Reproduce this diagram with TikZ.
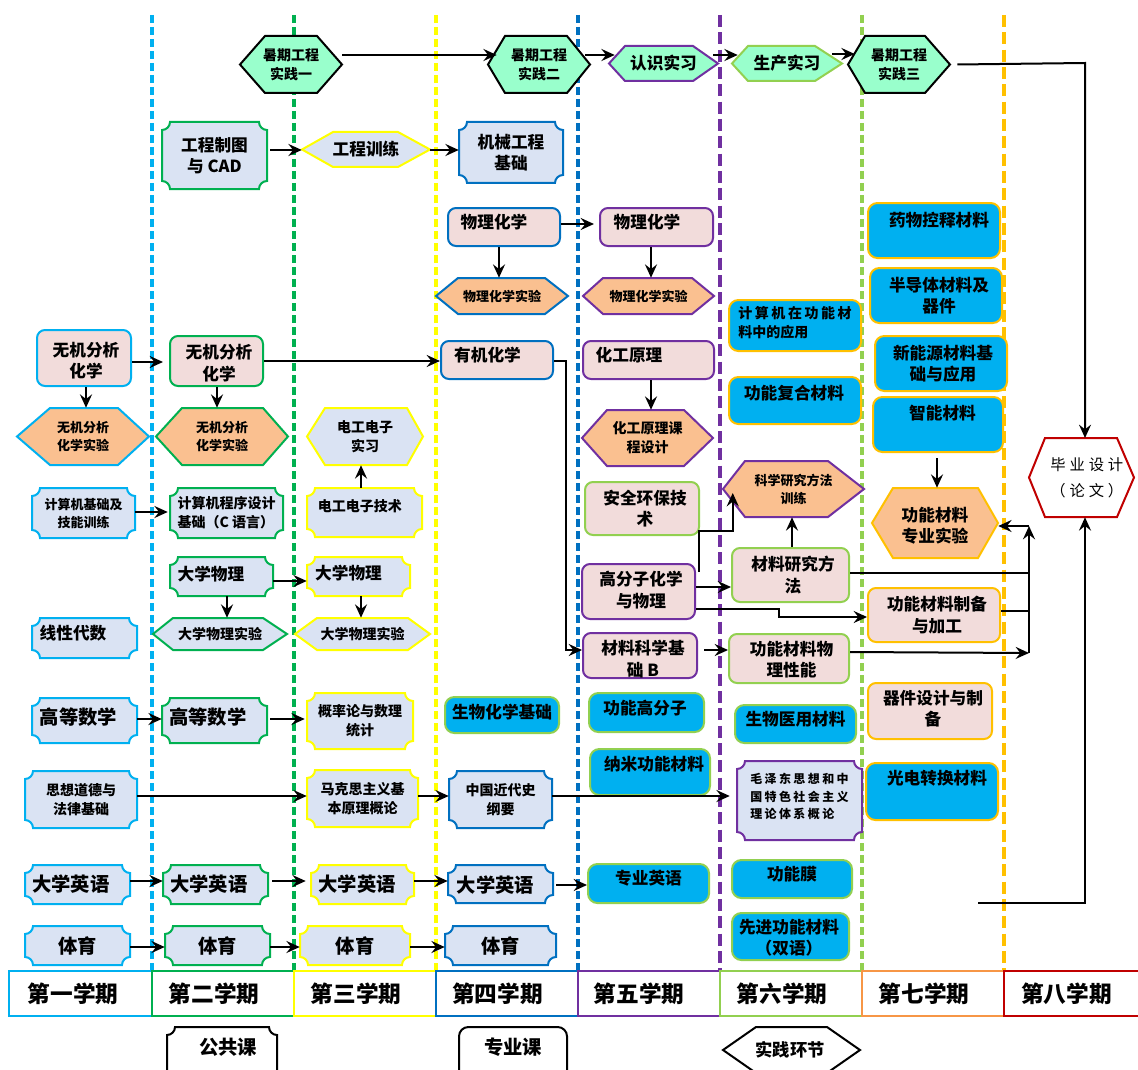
\documentclass[tikz,border=0pt]{standalone}
\usepackage{fontspec}
\newfontfamily\cjk{Noto Sans CJK SC}
\usetikzlibrary{fit,arrows.meta}
\definecolor{cC}{HTML}{00B0F0}
\definecolor{cG}{HTML}{00B050}
\definecolor{cY}{HTML}{FFFF00}
\definecolor{cBl}{HTML}{0070C0}
\definecolor{cP}{HTML}{7030A0}
\definecolor{cLG}{HTML}{92D050}
\definecolor{cO}{HTML}{FFC000}
\definecolor{cOt}{HTML}{F79646}
\definecolor{cR}{HTML}{C00000}
\definecolor{pubfill}{HTML}{DAE3F3}
\definecolor{pinkfill}{HTML}{F2DCDB}
\definecolor{orgfill}{HTML}{FAC090}
\definecolor{mint}{HTML}{99FFCC}
\definecolor{cEl}{HTML}{00B0F0}
\tikzset{
 fA/.style={align=center, inner sep=0pt, font=\cjk\bfseries\fontsize{12.5}{16}\selectfont},
 fB/.style={align=center, inner sep=0pt, font=\cjk\bfseries\fontsize{14.5}{18}\selectfont},
 fC/.style={align=center, inner sep=0pt, font=\cjk\bfseries\fontsize{10.5}{14.3}\selectfont},
 fD/.style={align=center, inner sep=0pt, font=\cjk\bfseries\fontsize{9.75}{13.5}\selectfont},
 fE/.style={align=left, inner sep=0pt, font=\cjk\bfseries\fontsize{9}{13}\selectfont\addfontfeatures{LetterSpace=20}},
 fS/.style={align=center, inner sep=0pt, font=\cjk\bfseries\fontsize{17}{20}\selectfont},
 fL/.style={align=center, inner sep=0pt, font=\cjk\bfseries\fontsize{13}{16}\selectfont},
 fBy/.style={align=center, inner sep=0pt, font=\cjk\fontsize{11.5}{19.5}\selectfont\addfontfeatures{LetterSpace=25}},
 pub/.style={draw=#1, fill=pubfill, line width=1.5pt},
 pk/.style={draw=#1, fill=pinkfill, line width=1.5pt, rounded corners=6pt},
 el/.style={draw=#1, fill=cEl, line width=1.5pt, rounded corners=7pt},
 hxm/.style={draw=#1, fill=mint, line width=1.5pt},
 hxo/.style={draw=#1, fill=orgfill, line width=1.5pt},
 hxp/.style={draw=#1, fill=pubfill, line width=1.5pt},
 hxw/.style={draw=#1, fill=white, line width=1.5pt},
 sem/.style={draw=#1, line width=1.5pt},
 vline/.style={draw=#1, line width=2.6pt, dash pattern=on 6pt off 3pt},
 vlineT/.style={draw=#1, line width=3.4pt, dash pattern=on 9pt off 4pt},
 arr/.style={line width=1.5pt, -{Stealth[length=10pt,width=9pt,inset=3.5pt]}},
 ln/.style={line width=1.5pt},
}
% plaque with concave corners: name x1 y1 x2 y2 boxstyle textstyle text
\newcommand\plq[8]{%
 \path[#6] ([xshift=6pt]#2,#3) -- ([xshift=-6pt]#4,#3) arc[start angle=180,end angle=270,radius=6pt]
   -- ([yshift=6pt]#4,#5) arc[start angle=90,end angle=180,radius=6pt]
   -- ([xshift=6pt]#2,#5) arc[start angle=0,end angle=90,radius=6pt]
   -- ([yshift=-6pt]#2,#3) arc[start angle=270,end angle=360,radius=6pt] -- cycle;
 \node[fit={(#2,#3) (#4,#5)}, inner sep=0pt] (#1) {};
 \node[#7] (#1t) at (#1.center) {#8};}
% rounded / plain box
\newcommand\rbx[8]{%
 \node[fit={(#2,#3) (#4,#5)}, inner sep=0pt, #6] (#1) {};
 \node[#7] (#1t) at (#1.center) {#8};}
% hexagon: name xl xtl xtr xr yt yb boxstyle [textstyle]{text}
\newcommand\hexa[9]{%
 \path[#8] (#2,{(#6+#7)/2}) -- (#3,#6) -- (#4,#6) -- (#5,{(#6+#7)/2}) -- (#4,#7) -- (#3,#7) -- cycle;
 \node[fit={(#2,#6) (#5,#7)}, inner sep=0pt] (#1) {};
 \node (#1t) at (#1.center) #9;}
\begin{document}
\begin{tikzpicture}[x=0.75pt, y=-0.75pt]
\useasboundingbox (0,0) rectangle (1138,1070);
% semester separators
\draw[vline=cC] (152,15) -- (152,970);
\draw[vline=cG] (294,15) -- (294,970);
\draw[vline=cY] (436,15) -- (436,970);
\draw[vline=cBl] (578,15) -- (578,970);
\draw[vlineT=cP] (720,15) -- (720,970);
\draw[vline=cLG] (862,15) -- (862,970);
\draw[vlineT=cO] (1004,15) -- (1004,970);

% ---- top practice row
\hexa{sq1}{240}{265}{317}{342}{36}{93}{hxm=black}{[fC]{暑期工程\\实践一}}
\hexa{sq2}{488}{505}{567}{590}{36}{93}{hxm=black}{[fC]{暑期工程\\实践二}}
\hexa{rs}{609}{625}{693}{718}{46}{81}{hxm=cP}{[fA]{认识实习}}
\hexa{sc}{732}{748}{815}{842}{46}{81}{hxm=cLG}{[fA]{生产实习}}
\hexa{sq3}{848}{865}{925}{950}{36}{93}{hxm=black}{[fC]{暑期工程\\实践三}}

% ---- public courses (plaques)
\plq{gczt}{162}{122}{267}{189}{pub=cG}{fA}{工程制图\\与 CAD}
\plq{jxgc}{459}{122}{563}{183}{pub=cBl}{fA}{机械工程\\基础}
\plq{jsj}{32}{488}{135}{538}{pub=cC}{fD}{计算机基础及\\技能训练}
\plq{cxsj}{170}{488}{283}{538}{pub=cG}{fC, align=left}{计算机程序设计\\基础（C 语言）}
\plq{dgjs}{307}{488}{422}{537}{pub=cY}{fC, xshift=-3.4pt, yshift=4.9pt}{电工电子技术}
\plq{dxwl2}{170}{557}{273}{596}{pub=cG}{fA, xshift=-7.9pt, yshift=1.9pt}{大学物理}
\plq{dxwl3}{307}{557}{410}{596}{pub=cY}{fA, xshift=-7.5pt, yshift=2.6pt}{大学物理}
\plq{xxds}{32}{618}{137}{658}{pub=cC}{fA, xshift=-8.6pt, yshift=3.75pt}{线性代数}
\plq{gs1}{32}{698}{137}{743}{pub=cC}{fB, xshift=-4.5pt, yshift=2.6pt}{高等数学}
\plq{gs2}{162}{698}{267}{743}{pub=cG}{fB, xshift=-4.9pt, yshift=2.6pt}{高等数学}
\plq{gll}{307}{693}{413}{749}{pub=cY}{fC}{概率论与数理\\统计}
\plq{sxdd}{25}{771}{137}{828}{pub=cC}{fC}{思想道德与\\法律基础}
\plq{mks}{307}{770}{418}{827}{pub=cY}{fC}{马克思主义基\\本原理概论}
\plq{zgjds}{449}{771}{552}{828}{pub=cBl}{fC}{中国近代史\\纲要}
\plq{mzd}{737}{761}{862}{840}{pub=cP}{fE, yshift=3pt}{毛泽东思想和中\\国特色社会主义\\理论体系概论}
\plq{dy1}{25}{865}{130}{904}{pub=cC}{fB, xshift=-4.9pt}{大学英语}
\plq{dy2}{163}{865}{268}{904}{pub=cG}{fB, xshift=-4.9pt}{大学英语}
\plq{dy3}{311}{865}{414}{904}{pub=cY}{fB, xshift=-4.1pt}{大学英语}
\plq{dy4}{448}{865}{553}{903}{pub=cBl}{fB, xshift=-3.75pt, yshift=-1pt}{大学英语}
\plq{ty1}{25}{926}{130}{965}{pub=cC}{fB}{体育}
\plq{ty2}{165}{926}{270}{965}{pub=cG}{fB}{体育}
\plq{ty3}{300}{926}{410}{965}{pub=cY}{fB}{体育}
\plq{ty4}{445}{926}{556}{965}{pub=cBl}{fB}{体育}

% ---- specialised courses (pink)
\rbx{wj1}{37}{330}{131}{386}{pk=cC}{fA, xshift=1.5pt, yshift=-2.2pt}{无机分析\\化学}
\rbx{wj2}{170}{336}{263}{386}{pk=cG}{fA, xshift=1.9pt, yshift=-1.5pt}{无机分析\\化学}
\rbx{wlhx4}{448}{208}{560}{246}{pk=cBl}{fA, xshift=-7.5pt, yshift=3.75pt}{物理化学}
\rbx{wlhx5}{600}{208}{713}{246}{pk=cP}{fA, xshift=-7.1pt, yshift=3.75pt}{物理化学}
\rbx{yjhx}{441}{341}{553}{379}{pk=cBl}{fA, xshift=-7.1pt, yshift=3.75pt}{有机化学}
\rbx{hgyl}{583}{341}{714}{379}{pk=cP}{fA, xshift=-14.6pt, yshift=3.75pt}{化工原理}
\rbx{aq}{585}{482}{699}{535}{pk=cLG}{fA, xshift=2.25pt}{安全环保技\\术}
\rbx{gfz}{582}{564}{695}{619}{pk=cP}{fA, xshift=1.9pt, yshift=1.1pt}{高分子化学\\与物理}
\rbx{clkx}{583}{633}{697}{678}{pk=cP}{fA, xshift=2.25pt, yshift=-2.6pt}{材料科学基\\础 B}
\rbx{clyj}{732}{548}{849}{602}{pk=cLG}{fA, xshift=1.9pt}{材料研究方\\法}
\rbx{gnwl}{729}{634}{849}{683}{pk=cLG}{fA, xshift=1.9pt, yshift=-1.1pt}{功能材料物\\理性能}
\rbx{zbjg}{868}{588}{1000}{642}{pk=cO}{fA, xshift=2.25pt}{功能材料制备\\与加工}
\rbx{qj}{868}{683}{992}{739}{pk=cO}{fA, xshift=2.25pt, yshift=1.5pt}{器件设计与制\\备}

% ---- electives (blue)
\rbx{ywks}{868}{203}{1000}{258}{el=cO}{fA, xshift=3.75pt, yshift=7.9pt}{药物控释材料}
\rbx{bdt}{870}{268}{1002}{323}{el=cO}{fA, xshift=2.25pt}{半导体材料及\\器件}
\rbx{xny}{875}{336}{1007}{391}{el=cO}{fA, xshift=1.5pt}{新能源材料基\\础与应用}
\rbx{zncl}{873}{397}{1003}{452}{el=cO}{fA, xshift=3.4pt, yshift=8.6pt}{智能材料}
\rbx{jsjyy}{729}{300}{861}{351}{el=cO}{fC, align=left, yshift=2.25pt}{{\addfontfeatures{LetterSpace=18}计算机在功能材}\\料中的应用}
\rbx{fhcl}{729}{377}{861}{424}{el=cO}{fA, xshift=-0.75pt, yshift=5.6pt}{功能复合材料}
\rbx{gngfz}{589}{693}{704}{732}{el=cLG}{fA, xshift=-1.1pt, yshift=3.4pt}{功能高分子}
\rbx{nm}{590}{749}{710}{795}{el=cLG}{fA, xshift=3pt, yshift=6pt}{纳米功能材料}
\rbx{zyyy}{588}{864}{709}{903}{el=cLG}{fA, yshift=4.1pt}{专业英语}
\rbx{swhx}{445}{697}{559}{733}{el=cLG}{fA, yshift=2.25pt}{生物化学基础}
\rbx{swyy}{735}{705}{856}{743}{el=cLG}{fA, yshift=3.75pt}{生物医用材料}
\rbx{gnm}{732}{860}{852}{898}{el=cLG}{fA, yshift=3.75pt}{功能膜}
\rbx{xjgn}{732}{913}{849}{960}{el=cLG}{fA, xshift=-1.1pt, yshift=-1.1pt}{先进功能材料\\（双语）}
\rbx{gdzh}{866}{763}{998}{820}{el=cO}{fA, xshift=3.75pt, yshift=10.1pt}{光电转换材料}

% ---- hexagons (labs / practice)
\hexa{gcxl}{302}{333}{398}{430}{132}{167}{hxp=cY}{[fA]{工程训练}}
\hexa{wlsy4}{436}{458}{545}{568}{278}{314}{hxo=cBl}{[fD]{物理化学实验}}
\hexa{wlsy5}{583}{603}{692}{714}{278}{314}{hxo=cP}{[fD]{物理化学实验}}
\hexa{wjsy1}{17}{50}{118}{149}{408}{465}{hxo=cC}{[fD]{无机分析\\化学实验}}
\hexa{wjsy2}{156}{182}{263}{288}{408}{465}{hxo=cG}{[fD]{无机分析\\化学实验}}
\hexa{dgsx}{307}{325}{407}{423}{408}{465}{hxp=cY}{[fC]{电工电子\\实习}}
\hexa{dxsy2}{153}{173}{263}{287}{618}{650}{hxp=cG}{[fC]{大学物理实验}}
\hexa{dxsy3}{295}{317}{408}{430}{618}{650}{hxp=cY}{[fC]{大学物理实验}}
\hexa{hgkc}{582}{607}{684}{713}{410}{466}{hxo=cP}{[fC]{化工原理课\\程设计}}
\hexa{kxyj}{723}{745}{828}{864}{461}{517}{hxo=cP}{[fD]{科学研究方法\\训练}}
\hexa{gnsy}{872}{893}{978}{998}{488}{558}{hxo=cO}{[fA, yshift=-1.9pt]{功能材料\\专业实验}}
\hexa{bysj}{1029}{1045}{1117}{1134}{438}{517}{hxw=cR}{[fBy, xshift=4pt]{毕业设计\\（论文）}}

% ---- semester row
\rbx{s1}{9}{971}{152}{1016}{sem=cC}{fS, xshift=-5.6pt}{第一学期}
\rbx{s2}{152}{971}{294}{1016}{sem=cG}{fS, xshift=-6.75pt}{第二学期}
\rbx{s3}{294}{971}{436}{1016}{sem=cY}{fS, xshift=-6.75pt}{第三学期}
\rbx{s4}{436}{971}{578}{1016}{sem=cBl}{fS, xshift=-7.1pt}{第四学期}
\rbx{s5}{578}{971}{720}{1016}{sem=cP}{fS, xshift=-7.5pt}{第五学期}
\rbx{s6}{720}{971}{862}{1016}{sem=cLG}{fS, xshift=-6.75pt}{第六学期}
\rbx{s7}{862}{971}{1004}{1016}{sem=cOt}{fS, xshift=-6.75pt}{第七学期}
\rbx{s8}{1004}{971}{1142}{1016}{sem=cR}{fS, xshift=-5pt}{第八学期}

% ---- legend
\plq{lg1}{167}{1027}{277}{1090}{pub=black, fill=white}{fB, xshift=4.5pt, yshift=8.6pt}{公共课}
\rbx{lg2}{459}{1027}{567}{1090}{draw=black, fill=white, line width=1.5pt, rounded corners=7pt}{fB, yshift=8.6pt}{专业课}
\hexa{lg3}{723}{756}{827}{860}{1027}{1073}{hxw=black}{[fL, xshift=-1pt]{实践环节}}

% ---- connectors
\draw[arr] (sq1.east |- 0,55) -- ([xshift=6.75pt]sq2.west |- 0,55);
\draw[arr] ([xshift=-3.75pt]sq2.east |- 0,55) -- ([xshift=4.5pt]rs.west |- 0,55);
\draw[arr] ([xshift=-3.75pt]rs.east |- 0,55) -- ([xshift=4.5pt]sc.west |- 0,55);
\draw[arr] ([xshift=-7.5pt]sc.east |- 0,54) -- ([xshift=5.25pt]sq3.west |- 0,54);
\coordinate (bysjtop) at (1085,438);
\draw[arr] ([xshift=5.25pt]sq3.east) -- (bysjtop |- 0,63) -- (bysjtop);

\draw[arr] ([xshift=2.25pt]gczt.east |- 0,150) -- (gcxl.west |- 0,150);
\draw[arr] (gcxl.east |- 0,150) -- (jxgc.west |- 0,150);
\draw[arr] (wlhx4.east |- 0,224) -- ([xshift=-3.75pt]wlhx5.west |- 0,224);
\draw[arr] (wlhx4.south -| 499,0) -- (wlsy4.north -| 499,0);
\draw[arr] (wlhx5.south -| 651,0) -- (wlsy5.north -| 651,0);
\draw[arr] (hgyl.south -| 651,0) -- (hgkc.north -| 651,0);

\draw[arr] (wj1.east |- 0,362) -- ([xshift=-4.5pt]wj2.west |- 0,362);
\draw[arr] (wj2.east |- 0,361) -- (yjhx.west |- 0,361);
\draw[arr] (wj1.south -| 86,0) -- (wjsy1.north -| 86,0);
\draw[arr] (wj2.south -| 217,0) -- (wjsy2.north -| 217,0);
\draw[arr] (yjhx.east |- 0,361) -| ([xshift=-12pt]clkx.west |- 0,650) -- (clkx.west |- 0,650);
\draw[arr] (jsj.east |- 0,512) -- ([xshift=-1.5pt]cxsj.west |- 0,512);
\draw[arr] (dgjs.north -| 361,0) -- (dgsx.south -| 361,0);
\draw[arr] (dxwl2.east |- 0,581) -- (dxwl3.west |- 0,581);
\draw[arr] (dxwl2.south -| 227,0) -- (dxsy2.north -| 227,0);
\draw[arr] (dxwl3.south -| 361,0) -- (dxsy3.north -| 361,0);
\draw[arr] (gs1.east |- 0,719) -- (gs2.west |- 0,719);
\draw[arr] ([xshift=2.25pt]gs2.east |- 0,719) -- ([xshift=-1.5pt]gll.west |- 0,719);
\draw[arr] (sxdd.east |- 0,796) -- (mks.west |- 0,796);
\draw[arr] (mks.east |- 0,796) -- (zgjds.west |- 0,796);
\draw[arr] (zgjds.east |- 0,796) -- ([xshift=-5.25pt]mzd.west |- 0,796);
\draw[arr] (dy1.east |- 0,881) -- (dy2.west |- 0,881);
\draw[arr] ([xshift=3pt]dy2.east |- 0,881) -- ([xshift=-3.75pt]dy3.west |- 0,881);
\draw[arr] (dy3.east |- 0,881) -- (dy4.west |- 0,881);
\draw[arr] ([xshift=2.25pt]dy4.east |- 0,885) -- (zyyy.west |- 0,885);
\draw[arr] (ty1.east |- 0,947) -- (ty2.west |- 0,947);
\draw[arr] (ty2.east |- 0,947) -- (ty3.west |- 0,947);
\draw[arr] (ty3.east |- 0,947) -- (ty4.west |- 0,947);

\draw[arr] ([xshift=2.25pt,yshift=-6.75pt]gfz.north east) |- ([xshift=7.5pt]kxyj.west |- 0,531) -- ([xshift=7.5pt]kxyj.west |- 0,493);
\draw[arr] (gfz.east |- 0,587) -- (clyj.west |- 0,587);
\draw[arr] (gfz.east |- 0,609) -| ([xshift=-66pt]zbjg.west |- 0,617) -- (zbjg.west |- 0,617);
\draw[arr] ([xshift=4.5pt]clkx.east |- 0,650) -- (gnwl.west |- 0,650);
\draw[arr] (clyj.north -| 792,0) -- (kxyj.south -| 792,0);
\draw[arr] ([yshift=-3.75pt]zncl.south -| 937,0) -- (gnsy.north -| 937,0);
\coordinate (busT) at (1029,526);
\coordinate (busB) at (1029,653);
\draw[ln] (clyj.east |- 0,573) -- (busT |- 0,573);
\draw[ln] (zbjg.east |- 0,611) -- (busT |- 0,611);
\draw[arr] (gnwl.east |- 0,652) -- (busB);
\draw[arr] (busB) -- (busT);
\draw[arr] (busT) -- (gnsy.east |- busT);
\coordinate (bl) at (978,903);
\draw[arr] (bl) -| (bysj.south -| 1085,0);
\end{tikzpicture}
\end{document}
